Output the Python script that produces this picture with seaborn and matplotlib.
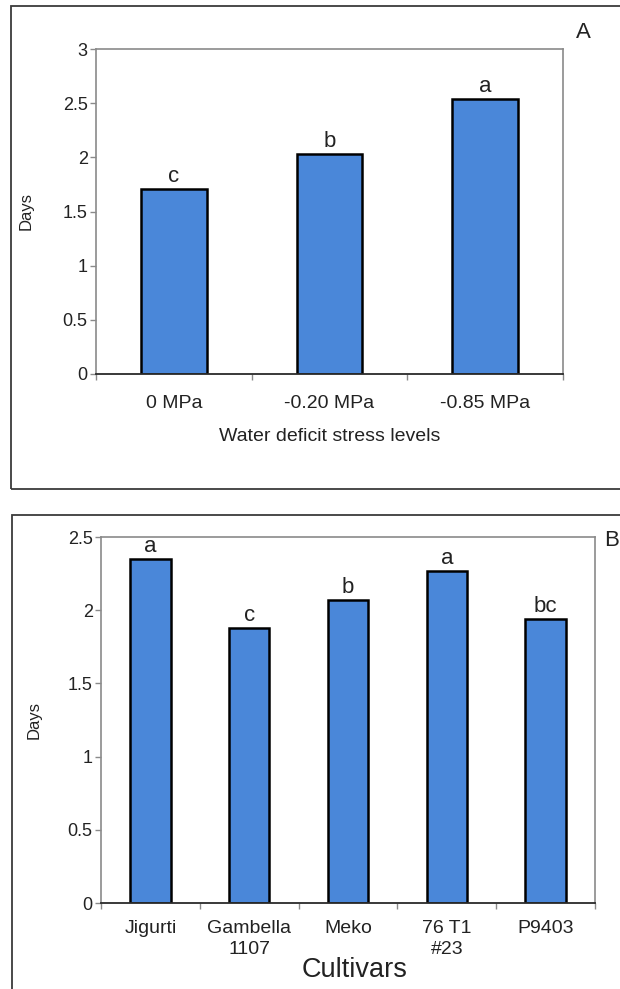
import numpy as np
import pandas as pd
import seaborn as sns
import matplotlib
matplotlib.use("Agg")
import matplotlib.pyplot as plt
from matplotlib.patches import Rectangle
from matplotlib.ticker import FixedLocator

# panel A: water deficit stress levels
stress_levels = ["0 MPa", "-0.20 MPa", "-0.85 MPa"]
stress_days = [1.71, 2.03, 2.54]
stress_letters = ["c", "b", "a"]

# panel B: cultivars
cultivars = ["Jigurti", "Gambella\n1107", "Meko", "76 T1\n#23", "P9403"]
cultivar_days = [2.35, 1.88, 2.07, 2.27, 1.94]
cultivar_letters = ["a", "c", "b", "a", "bc"]

bar_color = "#4a87d9"
frame_gray = "#8a8a8a"
text_color = "#222222"

sns.set_style("white")
plt.rcParams["font.family"] = ["Liberation Sans", "DejaVu Sans"]

W, H = 620, 989
fig = plt.figure(figsize=(W / 100, H / 100), dpi=100)
fig.patch.set_facecolor("white")


def px_axes(left, top, right, bottom):
    return fig.add_axes([left / W, 1 - bottom / H, (right - left) / W, (bottom - top) / H])


def panel_box(left, top, right, bottom):
    fig.patches.append(Rectangle((left / W, 1 - bottom / H), (right - left) / W, (bottom - top) / H,
                                 transform=fig.transFigure, fill=False, edgecolor="#3a3a3a", lw=1.3))


def bar_panel(ax, cats, vals, letters, ymax, width, xlabel, xlabel_size, xpad, xlabel_xy, ylabel_x):
    df = pd.DataFrame({"cat": cats, "days": vals})
    sns.barplot(data=df, x="cat", y="days", color=bar_color, saturation=1, width=width,
                edgecolor="black", linewidth=1.8, ax=ax)
    ax.bar_label(ax.containers[0], labels=letters, padding=1.5, fontsize=16, color=text_color)

    n = len(cats)
    ax.set_xlim(-0.5, n - 0.5)
    ax.set_ylim(0, ymax)
    ax.set_yticks(np.arange(0, ymax + 0.01, 0.5))
    ax.set_yticklabels([f"{v:g}" for v in np.arange(0, ymax + 0.01, 0.5)])
    ax.xaxis.set_minor_locator(FixedLocator(np.arange(-0.5, n, 1.0)))

    ax.tick_params(axis="y", direction="out", length=4, width=1, color=frame_gray,
                   labelsize=13, labelcolor=text_color, pad=2, left=True)
    ax.tick_params(axis="x", which="major", length=0, labelsize=14, labelcolor=text_color, pad=xpad)
    ax.tick_params(axis="x", which="minor", direction="out", length=4, width=1,
                   color=frame_gray, bottom=True)
    for lab in ax.get_xticklabels():
        lab.set_linespacing(1.35)

    for side in ["top", "right", "left"]:
        ax.spines[side].set_color(frame_gray)
        ax.spines[side].set_linewidth(1.2)
    ax.spines["bottom"].set_color("#2a2a2a")
    ax.spines["bottom"].set_linewidth(1.3)

    ax.set_xlabel(xlabel, fontsize=xlabel_size, color=text_color)
    ax.xaxis.set_label_coords(*xlabel_xy)
    ax.set_ylabel("Days", fontsize=12, color=text_color)
    ax.yaxis.set_label_coords(ylabel_x, 0.5)
    return ax


# outer frames of the two panels
panel_box(11, 6, 640, 489)
panel_box(12, 515, 640, 1010)

ax_a = px_axes(96, 49, 563, 374)
bar_panel(ax_a, stress_levels, stress_days, stress_letters, 3, 0.42,
          "Water deficit stress levels", 14, 15, (0.5, -0.165), -0.133)

ax_b = px_axes(101, 537, 595, 903)
bar_panel(ax_b, cultivars, cultivar_days, cultivar_letters, 2.5, 0.41,
          "Cultivars", 19.5, 12, (0.514, -0.148), -0.121)

fig.text(583 / W, 1 - 32 / H, "A", fontsize=16, color=text_color, ha="center", va="center")
fig.text(612 / W, 1 - 540 / H, "B", fontsize=16, color=text_color, ha="center", va="center")

plt.savefig("out.png", dpi=100)
